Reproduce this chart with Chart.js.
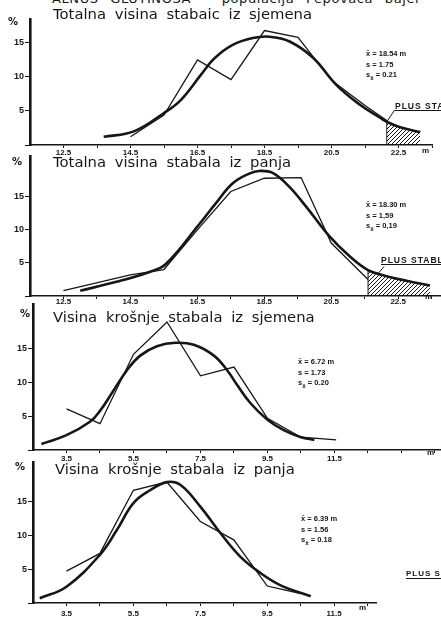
<!DOCTYPE html>
<html>
<head>
<meta charset="utf-8">
<script src="https://cdn.jsdelivr.net/npm/chart.js@4.4.1/dist/chart.umd.min.js"></script>
<style>
  body { margin: 0; width: 441px; height: 621px; overflow: hidden; position: relative; background: #fff; color: #161616; }
  canvas { position: absolute; left: 0; }
  .txt { position: absolute; white-space: nowrap; }
  .header { font: 13px "DejaVu Sans"; letter-spacing: 0.6px; word-spacing: 7px; color: #161616; }
  .title { font: 14.8px/14px "DejaVu Sans"; word-spacing: 4px; }
  .pct { font: bold 10px "DejaVu Sans"; }
  .stat { font: bold 7.5px/10.5px "Liberation Sans"; }
  .unit { font: bold 8px "Liberation Sans"; }
  .plus { font: bold 8.5px/8px "Liberation Sans"; border-bottom: 1px solid #161616; padding-right: 30px; letter-spacing: 1px; }
</style>
</head>
<body>
<div class="txt header" style="left:52px; top:-9px;">ALNUS GLUTINOSA – populacija Pepovača bajer</div>

<canvas id="panel-seed-height" width="441" height="159" style="top:0px"></canvas>
<canvas id="panel-stump-height" width="441" height="158" style="top:150px"></canvas>
<canvas id="panel-seed-crown" width="441" height="168" style="top:298px"></canvas>
<canvas id="panel-stump-crown" width="441" height="165" style="top:456px"></canvas>

<div class="txt title" style="left:53px; top:7px;">Totalna visina stabaic iz sjemena</div>
<div class="txt title" style="left:53px; top:155px;">Totalna visina stabala iz panja</div>
<div class="txt title" style="left:53px; top:310px;">Visina krošnje stabala iz sjemena</div>
<div class="txt title" style="left:55px; top:462px;">Visina krošnje stabala iz panja</div>

<div class="txt pct" style="left:8px; top:16px;">%</div>
<div class="txt pct" style="left:12px; top:156px;">%</div>
<div class="txt pct" style="left:20px; top:308px;">%</div>
<div class="txt pct" style="left:15px; top:461px;">%</div>

<div class="txt stat" style="left:366px; top:49px;">x̄ = 18.54 m<br>s = 1.75<br>s<sub>x̄</sub> = 0.21</div>
<div class="txt stat" style="left:366px; top:200px;">x̄ = 18.30 m<br>s = 1,59<br>s<sub>x̄</sub> = 0,19</div>
<div class="txt stat" style="left:298px; top:357px;">x̄ = 6.72 m<br>s = 1.73<br>s<sub>x̄</sub> = 0.20</div>
<div class="txt stat" style="left:301px; top:514px;">x̄ = 6.39 m<br>s = 1.56<br>s<sub>x̄</sub> = 0.18</div>

<div class="txt plus" style="left:395px; top:102px;">PLUS STABLO</div>
<div class="txt plus" style="left:381px; top:256px;">PLUS STABLO</div>
<div class="txt plus" style="left:406px; top:570px; font-size:8px;">PLUS STABLO</div>

<div class="txt unit" style="left:422px; top:146px;">m</div>
<div class="txt unit" style="left:425px; top:292px;">m</div>
<div class="txt unit" style="left:427px; top:448px;">m</div>
<div class="txt unit" style="left:359px; top:603px;">m</div>

<script>
// totalna visina, stabla iz sjemena
const seedHeightClasses = [14.5, 15.5, 16.5, 17.5, 18.5, 19.5, 20.5, 21.5, 22.15];
const seedHeightPercent = [1.2, 4.4, 12.5, 9.6, 16.8, 15.8, 9.5, 5.8, 3.6];
const seedHeightCurveX = [13.7, 14.6, 15.5, 16.0, 16.6, 17.0, 17.55, 18.15, 18.65, 19.25, 19.95, 20.65, 21.35, 21.95, 22.15, 22.55, 23.15];
const seedHeightCurveY = [1.2, 2.0, 4.7, 6.6, 10.3, 12.7, 14.7, 15.7, 15.9, 15.2, 12.8, 8.8, 5.9, 4.0, 3.4, 2.6, 1.9];

// totalna visina, stabla iz panja
const stumpHeightClasses = [12.5, 14.5, 15.5, 16.5, 17.5, 18.5, 19.6, 20.5, 21.6];
const stumpHeightPercent = [0.8, 3.2, 4.0, 10.0, 15.8, 17.8, 17.9, 8.0, 2.5];
const stumpHeightCurveX = [13.0, 14.05, 15.05, 15.55, 16.55, 17.05, 17.55, 18.05, 18.35, 18.75, 19.25, 19.75, 20.45, 21.05, 21.6, 22.15, 22.75, 23.45];
const stumpHeightCurveY = [0.8, 2.1, 3.6, 4.8, 10.8, 14.0, 17.0, 18.5, 18.9, 18.6, 16.5, 13.5, 9.0, 6.0, 3.9, 3.0, 2.3, 1.6];

// visina krosnje, stabla iz sjemena
const seedCrownClasses = [3.5, 4.5, 5.5, 6.5, 7.5, 8.5, 9.5, 10.5, 11.55];
const seedCrownPercent = [6.1, 3.9, 14.2, 19.0, 11.0, 12.3, 4.7, 1.9, 1.5];
const seedCrownCurveX = [2.75, 3.5, 4.2, 4.5, 4.9, 5.3, 5.7, 6.2, 6.75, 7.3, 7.9, 8.3, 8.6, 9.0, 9.5, 10.0, 10.5, 10.9];
const seedCrownCurveY = [0.9, 2.2, 4.2, 5.8, 8.8, 11.8, 14.0, 15.4, 15.9, 15.6, 14.0, 11.8, 9.6, 6.9, 4.5, 2.9, 1.9, 1.5];

// visina krosnje, stabla iz panja
const stumpCrownClasses = [3.5, 4.5, 5.5, 6.5, 7.5, 8.5, 9.5, 10.5];
const stumpCrownPercent = [4.7, 7.3, 16.6, 17.8, 12.0, 9.3, 2.5, 1.4];
const stumpCrownCurveX = [2.7, 3.5, 4.5, 5.0, 5.5, 6.0, 6.5, 6.9, 7.5, 8.1, 8.7, 9.3, 9.9, 10.8];
const stumpCrownCurveY = [0.7, 2.4, 7.1, 10.7, 14.7, 16.6, 17.8, 17.4, 14.2, 10.3, 6.8, 4.4, 2.6, 1.0];

const heightTickValues = [12.5, 13.5, 14.5, 15.5, 16.5, 17.5, 18.5, 19.5, 20.5, 21.5, 22.5, 23.5];
const heightTickLabels = [12.5, 14.5, 16.5, 18.5, 20.5, 22.5];
const crownTickValues = [3.5, 4.5, 5.5, 6.5, 7.5, 8.5, 9.5, 10.5, 11.5, 12.5, 13.5, 14.5];
const crownTickLabels = [3.5, 5.5, 7.5, 9.5, 11.5];
const percentTickValues = [0, 5, 10, 15];

const INK = "#161616";

function toPoints(xs, ys) {
  return xs.map((x, i) => ({ x, y: ys[i] }));
}

function makeHatch() {
  const tile = document.createElement("canvas");
  tile.width = 4;
  tile.height = 4;
  const ctx = tile.getContext("2d");
  ctx.strokeStyle = INK;
  ctx.lineWidth = 1;
  ctx.beginPath();
  ctx.moveTo(0, 4);
  ctx.lineTo(4, 0);
  ctx.moveTo(-1, 1);
  ctx.lineTo(1, -1);
  ctx.moveTo(3, 5);
  ctx.lineTo(5, 3);
  ctx.stroke();
  return ctx.createPattern(tile, "repeat");
}

const plusLeaderPlugin = {
  id: "plusLeader",
  afterDatasetsDraw(chart, args, opts) {
    if (!opts || !opts.from) return;
    const ctx = chart.ctx;
    const x0 = chart.scales.x.getPixelForValue(opts.from[0]);
    const y0 = chart.scales.y.getPixelForValue(opts.from[1]);
    ctx.save();
    ctx.strokeStyle = INK;
    ctx.lineWidth = 1;
    ctx.beginPath();
    ctx.moveTo(x0, y0);
    ctx.lineTo(x0 + opts.dx, y0 + opts.dy);
    ctx.stroke();
    ctx.restore();
  },
};

function buildPanel(id, cfg) {
  const datasets = [
    {
      data: toPoints(cfg.curveX, cfg.curveY),
      borderColor: INK,
      borderWidth: 2.6,
      pointRadius: 0,
      tension: 0.4,
      fill: false,
      order: 2,
    },
    {
      data: toPoints(cfg.classes, cfg.percent),
      borderColor: INK,
      borderWidth: 1.3,
      pointRadius: 0,
      tension: 0,
      fill: false,
      order: 1,
    },
  ];

  if (cfg.plusFrom != null) {
    // hatched tail under the curve for the "plus" trees
    const tail = toPoints(cfg.curveX, cfg.curveY).filter((p) => p.x >= cfg.plusFrom);
    tail.unshift({ x: cfg.plusFrom, y: 0 });
    datasets.push({
      data: tail,
      borderColor: INK,
      borderWidth: 1,
      backgroundColor: makeHatch(),
      pointRadius: 0,
      tension: 0,
      fill: "origin",
      order: 3,
    });
  }

  return new Chart(document.getElementById(id), {
    type: "line",
    data: { datasets },
    options: {
      responsive: false,
      animation: false,
      devicePixelRatio: 1,
      layout: { padding: { top: cfg.padTop, right: cfg.padRight, bottom: 0, left: 0 } },
      plugins: {
        legend: { display: false },
        tooltip: { enabled: false },
        plusLeader: cfg.leader || {},
      },
      scales: {
        x: {
          type: "linear",
          min: cfg.xMin,
          max: cfg.xMax,
          afterFit(scale) {
            scale.height = cfg.xAxisHeight;
          },
          afterBuildTicks(scale) {
            scale.ticks = cfg.tickValues.map((value) => ({ value }));
          },
          ticks: {
            autoSkip: false,
            maxRotation: 0,
            padding: cfg.labelPad,
            color: INK,
            font: { family: "Liberation Sans", size: 8, weight: "bold" },
            callback: (value) =>
              cfg.tickLabels.some((t) => Math.abs(t - value) < 0.01) ? value.toFixed(1) : "",
          },
          grid: { drawOnChartArea: false, tickLength: 3, tickColor: INK, tickWidth: 1 },
          border: { display: true, color: INK, width: 1.6 },
        },
        y: {
          min: 0,
          max: cfg.yMax,
          afterFit(scale) {
            scale.width = cfg.axisLeft;
          },
          afterBuildTicks(scale) {
            scale.ticks = percentTickValues.map((value) => ({ value }));
          },
          ticks: {
            padding: 1,
            color: INK,
            font: { family: "Liberation Sans", size: 9, weight: "bold" },
            callback: (value) => (value === 0 ? "" : String(value)),
          },
          grid: { drawOnChartArea: false, tickLength: 5, tickColor: INK, tickWidth: 1 },
          border: { display: true, color: INK, width: 2.6 },
        },
      },
    },
    plugins: [plusLeaderPlugin],
  });
}

buildPanel("panel-seed-height", {
  classes: seedHeightClasses, percent: seedHeightPercent,
  curveX: seedHeightCurveX, curveY: seedHeightCurveY,
  plusFrom: 22.15, leader: { from: [22.15, 3.4], dx: 8, dy: -12 },
  xMin: 11.5, xMax: 23.5, yMax: 18.5,
  tickValues: heightTickValues, tickLabels: heightTickLabels,
  axisLeft: 30, padTop: 19, padRight: 9, xAxisHeight: 14, labelPad: 0,
});

buildPanel("panel-stump-height", {
  classes: stumpHeightClasses, percent: stumpHeightPercent,
  curveX: stumpHeightCurveX, curveY: stumpHeightCurveY,
  plusFrom: 21.6, leader: { from: [21.9, 3.4], dx: 6, dy: -7 },
  xMin: 11.5, xMax: 23.75, yMax: 21.1,
  tickValues: heightTickValues, tickLabels: heightTickLabels,
  axisLeft: 30, padTop: 5, padRight: 1, xAxisHeight: 12, labelPad: -2,
});

buildPanel("panel-seed-crown", {
  classes: seedCrownClasses, percent: seedCrownPercent,
  curveX: seedCrownCurveX, curveY: seedCrownCurveY,
  plusFrom: null,
  xMin: 2.5, xMax: 14.65, yMax: 21.6,
  tickValues: crownTickValues, tickLabels: crownTickLabels,
  axisLeft: 33, padTop: 5, padRight: 1, xAxisHeight: 16, labelPad: 1,
});

buildPanel("panel-stump-crown", {
  classes: stumpCrownClasses, percent: stumpCrownPercent,
  curveX: stumpCrownCurveX, curveY: stumpCrownCurveY,
  plusFrom: null,
  xMin: 2.5, xMax: 12.75, yMax: 20.7,
  tickValues: crownTickValues.filter((v) => v <= 12.75), tickLabels: crownTickLabels,
  axisLeft: 33, padTop: 6, padRight: 65, xAxisHeight: 18, labelPad: 3,
});
</script>
</body>
</html>
